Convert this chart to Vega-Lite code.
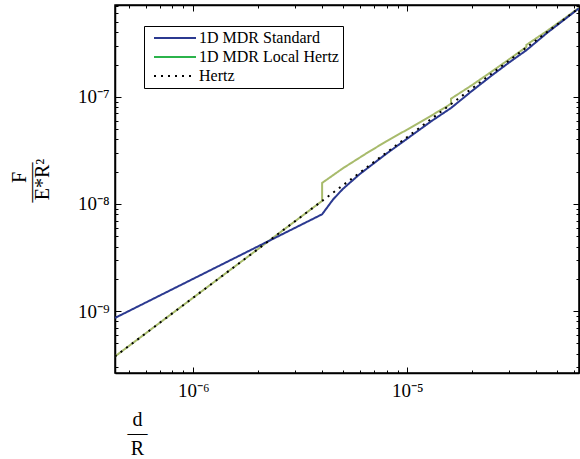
{
  "$schema": "https://vega.github.io/schema/vega-lite/v6.json",
  "width": 464,
  "height": 368,
  "autosize": {"type": "none"},
  "padding": {"left": 115, "top": 5, "right": 1, "bottom": 86},
  "background": "white",
  "config": {
    "view": {"stroke": "black", "strokeWidth": 1.5},
    "font": "Liberation Serif",
    "axis": {
      "domainColor": "black", "domainWidth": 1.5, "tickColor": "black", "tickWidth": 1,
      "labelColor": "black", "titleColor": "black", "labelFont": "Liberation Serif",
      "titleFont": "Liberation Serif", "grid": false, "labelFontSize": 19,
      "titleFontWeight": "normal", "titleFontSize": 20, "labelOverlap": false, "labelFlush": false, "labelBound": false
    },
    "legend": {"labelFont": "Liberation Serif", "labelFontSize": 16, "labelColor": "black"}
  },
  "data": {
    "values": [
      {"s": "1D MDR Local Hertz", "o": 1, "d": 4.31e-7, "F": 3.773e-10},
      {"s": "1D MDR Local Hertz", "o": 2, "d": 1e-6, "F": 1.333e-9},
      {"s": "1D MDR Local Hertz", "o": 3, "d": 2e-6, "F": 3.771e-9},
      {"s": "1D MDR Local Hertz", "o": 4, "d": 4e-6, "F": 1.0667e-8},
      {"s": "1D MDR Local Hertz", "o": 5, "d": 4e-6, "F": 1.57e-8},
      {"s": "1D MDR Local Hertz", "o": 6, "d": 5e-6, "F": 2.15e-8},
      {"s": "1D MDR Local Hertz", "o": 7, "d": 6.5e-6, "F": 3.0e-8},
      {"s": "1D MDR Local Hertz", "o": 8, "d": 8e-6, "F": 3.85e-8},
      {"s": "1D MDR Local Hertz", "o": 9, "d": 1e-5, "F": 4.95e-8},
      {"s": "1D MDR Local Hertz", "o": 10, "d": 1.3e-5, "F": 6.7e-8},
      {"s": "1D MDR Local Hertz", "o": 11, "d": 1.6e-5, "F": 8.6e-8},
      {"s": "1D MDR Local Hertz", "o": 12, "d": 1.6e-5, "F": 9.6e-8},
      {"s": "1D MDR Local Hertz", "o": 13, "d": 2e-5, "F": 1.28e-7},
      {"s": "1D MDR Local Hertz", "o": 14, "d": 2.5e-5, "F": 1.74e-7},
      {"s": "1D MDR Local Hertz", "o": 15, "d": 3e-5, "F": 2.25e-7},
      {"s": "1D MDR Local Hertz", "o": 16, "d": 3.6e-5, "F": 2.92e-7},
      {"s": "1D MDR Local Hertz", "o": 17, "d": 3.6e-5, "F": 3.05e-7},
      {"s": "1D MDR Local Hertz", "o": 18, "d": 4.5e-5, "F": 4.12e-7},
      {"s": "1D MDR Local Hertz", "o": 19, "d": 5.5e-5, "F": 5.5e-7},
      {"s": "1D MDR Local Hertz", "o": 20, "d": 6.34e-5, "F": 6.78e-7},
      {"s": "1D MDR Standard", "o": 1, "d": 4.31e-7, "F": 8.62e-10},
      {"s": "1D MDR Standard", "o": 2, "d": 4e-6, "F": 8.0e-9},
      {"s": "1D MDR Standard", "o": 3, "d": 4.5e-6, "F": 1.1e-8},
      {"s": "1D MDR Standard", "o": 4, "d": 5e-6, "F": 1.38e-8},
      {"s": "1D MDR Standard", "o": 5, "d": 6e-6, "F": 1.9e-8},
      {"s": "1D MDR Standard", "o": 6, "d": 8e-6, "F": 2.95e-8},
      {"s": "1D MDR Standard", "o": 7, "d": 1e-5, "F": 4.07e-8},
      {"s": "1D MDR Standard", "o": 8, "d": 1.3e-5, "F": 5.95e-8},
      {"s": "1D MDR Standard", "o": 9, "d": 1.6e-5, "F": 7.85e-8},
      {"s": "1D MDR Standard", "o": 10, "d": 2e-5, "F": 1.13e-7},
      {"s": "1D MDR Standard", "o": 11, "d": 2.5e-5, "F": 1.6e-7},
      {"s": "1D MDR Standard", "o": 12, "d": 3e-5, "F": 2.1e-7},
      {"s": "1D MDR Standard", "o": 13, "d": 3.6e-5, "F": 2.72e-7},
      {"s": "1D MDR Standard", "o": 14, "d": 4.5e-5, "F": 3.95e-7},
      {"s": "1D MDR Standard", "o": 15, "d": 5.5e-5, "F": 5.38e-7},
      {"s": "1D MDR Standard", "o": 16, "d": 6.34e-5, "F": 6.7e-7},
      {"s": "Hertz", "o": 1, "d": 4.31e-7, "F": 3.773e-10},
      {"s": "Hertz", "o": 2, "d": 1e-6, "F": 1.333e-9},
      {"s": "Hertz", "o": 3, "d": 4e-6, "F": 1.0667e-8},
      {"s": "Hertz", "o": 4, "d": 1e-5, "F": 4.216e-8},
      {"s": "Hertz", "o": 5, "d": 3e-5, "F": 2.191e-7},
      {"s": "Hertz", "o": 6, "d": 6.34e-5, "F": 6.731e-7}
    ]
  },
  "layer": [
    {
      "mark": {"type": "line", "strokeWidth": 2, "clip": true},
      "encoding": {
        "x": {
          "field": "d", "type": "quantitative",
          "scale": {"type": "log", "domain": [4.31e-7, 6.34e-5], "nice": false},
          "axis": {
            "orient": "bottom",
            "values": [1e-6, 1e-5],
            "labelExpr": "datum.value < 3e-6 ? '10⁻⁶' : '10⁻⁵'",
            "tickSize": -6,
            "labelPadding": 14,
            "labelBaseline": "top",
            "title": ["d", "—", "R"],
            "titleX": 22, "titleY": 52, "titleAlign": "center", "titleBaseline": "alphabetic",
            "titleLineHeight": 14.5, "titleAngle": 0
          }
        },
        "y": {
          "field": "F", "type": "quantitative",
          "scale": {"type": "log", "domain": [2.64e-10, 7.19e-7], "nice": false},
          "axis": {
            "orient": "left",
            "values": [1e-9, 1e-8, 1e-7],
            "labelExpr": "datum.value < 3e-9 ? '10⁻⁹' : (datum.value < 3e-8 ? '10⁻⁸' : '10⁻⁷')",
            "tickSize": -6,
            "labelPadding": 12,
            "labelAlign": "right",
            "labelBaseline": "middle",
            "title": "E*R²",
            "titleAngle": 270, "titleX": -67, "titleY": 174, "titleAlign": "center", "titleBaseline": "alphabetic"
          }
        },
        "color": {
          "field": "s", "type": "nominal",
          "scale": {"domain": ["1D MDR Standard", "1D MDR Local Hertz", "Hertz"], "range": ["#2B3990", "#A8BB6C", "#000000"]},
          "legend": null
        },
        "strokeDash": {
          "field": "s", "type": "nominal",
          "scale": {"domain": ["1D MDR Standard", "1D MDR Local Hertz", "Hertz"], "range": [[1, 0], [1, 0], [2, 5]]},
          "legend": null
        },
        "order": {"field": "o", "type": "quantitative"}
      }
    },
    {
      "mark": {"type": "line", "opacity": 0},
      "encoding": {
        "x": {
          "field": "d", "type": "quantitative",
          "axis": {
            "orient": "bottom", "domain": false,
            "values": [5e-7, 6e-7, 7e-7, 8e-7, 9e-7, 2e-6, 3e-6, 4e-6, 5e-6, 6e-6, 7e-6, 8e-6, 9e-6, 2e-5, 3e-5, 4e-5, 5e-5, 6e-5],
            "labels": false, "title": null, "tickSize": -3
          }
        },
        "y": {
          "field": "F", "type": "quantitative",
          "axis": {
            "orient": "left", "domain": false,
            "values": [3e-10, 4e-10, 5e-10, 6e-10, 7e-10, 8e-10, 9e-10, 2e-9, 3e-9, 4e-9, 5e-9, 6e-9, 7e-9, 8e-9, 9e-9, 2e-8, 3e-8, 4e-8, 5e-8, 6e-8, 7e-8, 8e-8, 9e-8, 2e-7, 3e-7, 4e-7, 5e-7, 6e-7, 7e-7],
            "labels": false, "tickSize": -3,
            "title": "F",
            "titleAngle": 270, "titleX": -90, "titleY": 172, "titleAlign": "center", "titleBaseline": "alphabetic"
          }
        },
        "detail": {"field": "s", "type": "nominal"},
        "order": {"field": "o", "type": "quantitative"}
      }
    },
    {
      "mark": {"type": "line", "opacity": 0},
      "encoding": {
        "x": {
          "field": "d", "type": "quantitative",
          "axis": {
            "orient": "top", "domain": false,
            "values": [5e-7, 6e-7, 7e-7, 8e-7, 9e-7, 2e-6, 3e-6, 4e-6, 5e-6, 6e-6, 7e-6, 8e-6, 9e-6, 2e-5, 3e-5, 4e-5, 5e-5, 6e-5],
            "labels": false, "title": null, "tickSize": -3
          }
        },
        "y": {
          "field": "F", "type": "quantitative",
          "axis": {
            "orient": "right", "domain": false,
            "values": [3e-10, 4e-10, 5e-10, 6e-10, 7e-10, 8e-10, 9e-10, 2e-9, 3e-9, 4e-9, 5e-9, 6e-9, 7e-9, 8e-9, 9e-9, 2e-8, 3e-8, 4e-8, 5e-8, 6e-8, 7e-8, 8e-8, 9e-8, 2e-7, 3e-7, 4e-7, 5e-7, 6e-7, 7e-7],
            "labels": false, "title": null, "tickSize": -3
          }
        },
        "detail": {"field": "s", "type": "nominal"},
        "order": {"field": "o", "type": "quantitative"}
      }
    },
    {
      "mark": {"type": "line", "opacity": 0},
      "encoding": {
        "x": {
          "field": "d", "type": "quantitative",
          "axis": null
        },
        "y": {
          "field": "F", "type": "quantitative",
          "axis": {
            "orient": "left", "domain": false, "ticks": false, "labels": false,
            "title": "——",
            "titleAngle": 270, "titleX": -78, "titleY": 177, "titleAlign": "center", "titleBaseline": "alphabetic"
          }
        },
        "detail": {"field": "s", "type": "nominal"},
        "order": {"field": "o", "type": "quantitative"}
      }
    },
    {
      "mark": {"type": "line", "strokeWidth": 2, "opacity": 0},
      "encoding": {
        "x": {
          "field": "d", "type": "quantitative",
          "axis": {"orient": "top", "values": [1e-6, 1e-5], "labels": false, "title": null, "tickSize": -6}
        },
        "y": {
          "field": "F", "type": "quantitative",
          "axis": {"orient": "right", "values": [1e-9, 1e-8, 1e-7], "labels": false, "title": null, "tickSize": -6}
        },
        "color": {
          "field": "s", "type": "nominal",
          "scale": {"domain": ["1D MDR Standard", "1D MDR Local Hertz", "Hertz"], "range": ["#2B3990", "#2BB34B", "#000000"]},
          "legend": {
            "orient": "none", "legendX": 29, "legendY": 21, "title": null,
            "symbolType": "M-3,0H3", "symbolSize": 196, "symbolStrokeWidth": 2, "symbolOpacity": 1,
            "labelFontSize": 16, "labelFont": "Liberation Serif", "labelColor": "black",
            "strokeColor": "black", "fillColor": "white", "padding": 4, "rowPadding": 3,
            "labelOffset": 16, "symbolOffset": 19, "cornerRadius": 0
          }
        },
        "strokeDash": {
          "field": "s", "type": "nominal",
          "scale": {"domain": ["1D MDR Standard", "1D MDR Local Hertz", "Hertz"], "range": [[1, 0], [1, 0], [2, 5]]},
          "legend": {
            "orient": "none", "legendX": 29, "legendY": 21, "title": null,
            "symbolType": "M-3,0H3", "symbolSize": 196, "symbolStrokeWidth": 2, "symbolOpacity": 1,
            "labelFontSize": 16, "labelFont": "Liberation Serif", "labelColor": "black",
            "strokeColor": "black", "fillColor": "white", "padding": 4, "rowPadding": 3,
            "labelOffset": 16, "symbolOffset": 19, "cornerRadius": 0
          }
        },
        "order": {"field": "o", "type": "quantitative"}
      }
    }
  ],
  "resolve": {
    "scale": {"color": "independent", "strokeDash": "independent"},
    "axis": {"x": "independent", "y": "independent"}
  }
}
